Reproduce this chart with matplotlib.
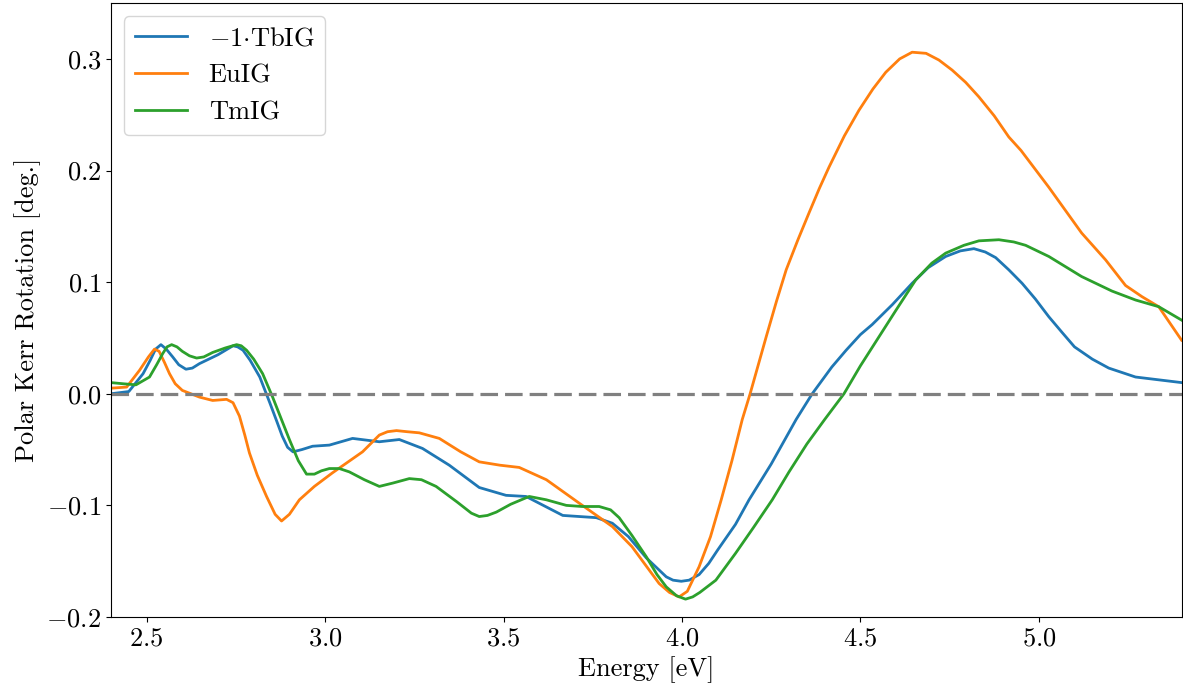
import matplotlib
matplotlib.use("Agg")
import matplotlib.pyplot as plt

plt.rcParams["font.family"] = "serif"
plt.rcParams["font.serif"] = ["cmr10", "DejaVu Serif"]
plt.rcParams["mathtext.fontset"] = "cm"
plt.rcParams["axes.formatter.use_mathtext"] = True
plt.rcParams["font.size"] = 19

# -1 * TbIG (values as plotted)
tbig_e = [2.40, 2.45, 2.49, 2.51, 2.525, 2.54, 2.555, 2.573, 2.59, 2.61, 2.628, 2.648,
          2.70, 2.742, 2.755, 2.77, 2.79, 2.817, 2.845, 2.865, 2.88, 2.895, 2.91, 2.935,
          2.965, 3.012, 3.077, 3.152, 3.208, 3.273, 3.348, 3.432, 3.507, 3.563, 3.666,
          3.76, 3.805, 3.85, 3.90, 3.956, 3.975, 3.998, 4.02, 4.048, 4.075, 4.10, 4.15,
          4.188, 4.25, 4.32, 4.365, 4.42, 4.46, 4.50, 4.533, 4.59, 4.645, 4.69, 4.739,
          4.78, 4.818, 4.85, 4.879, 4.916, 4.953, 4.99, 5.028, 5.065, 5.10, 5.15, 5.196,
          5.271, 5.40]
tbig_k = [0.000, 0.002, 0.018, 0.030, 0.040, 0.044, 0.040, 0.033, 0.026, 0.022, 0.023, 0.027,
          0.035, 0.043, 0.042, 0.039, 0.030, 0.015, -0.008, -0.025, -0.038, -0.048, -0.052, -0.050,
          -0.047, -0.046, -0.040, -0.043, -0.041, -0.049, -0.064, -0.084, -0.091, -0.092, -0.109,
          -0.111, -0.116, -0.128, -0.147, -0.164, -0.167, -0.168, -0.167, -0.162, -0.152, -0.140, -0.117,
          -0.095, -0.063, -0.023, 0.000, 0.024, 0.039, 0.053, 0.062, 0.080, 0.099, 0.113, 0.123,
          0.128, 0.130, 0.127, 0.122, 0.111, 0.099, 0.085, 0.069, 0.055, 0.042, 0.031, 0.023,
          0.015, 0.010]

euig_e = [2.40, 2.444, 2.48, 2.505, 2.522, 2.535, 2.55, 2.564, 2.58, 2.60, 2.648, 2.685,
          2.724, 2.742, 2.76, 2.775, 2.788, 2.81, 2.836, 2.86, 2.878, 2.90, 2.928, 2.97,
          3.02, 3.105, 3.152, 3.175, 3.20, 3.23, 3.264, 3.32, 3.38, 3.432, 3.49, 3.544,
          3.62, 3.712, 3.805, 3.86, 3.936, 3.965, 3.992, 4.015, 4.048, 4.08, 4.11, 4.14,
          4.169, 4.191, 4.236, 4.265, 4.292, 4.325, 4.356, 4.385, 4.412, 4.455, 4.496, 4.535,
          4.571, 4.61, 4.645, 4.684, 4.72, 4.757, 4.795, 4.832, 4.875, 4.916, 4.95, 5.028,
          5.12, 5.187, 5.243, 5.289, 5.336, 5.40]
euig_k = [0.005, 0.006, 0.021, 0.033, 0.040, 0.038, 0.028, 0.018, 0.009, 0.003, -0.003, -0.006,
          -0.005, -0.008, -0.020, -0.037, -0.053, -0.073, -0.092, -0.108, -0.114, -0.108, -0.095, -0.083,
          -0.071, -0.052, -0.037, -0.034, -0.033, -0.034, -0.035, -0.040, -0.052, -0.061, -0.064, -0.066,
          -0.077, -0.098, -0.119, -0.137, -0.170, -0.178, -0.182, -0.177, -0.155, -0.128, -0.095, -0.060,
          -0.023, 0.000, 0.051, 0.083, 0.111, 0.138, 0.162, 0.184, 0.203, 0.231, 0.254, 0.273,
          0.288, 0.300, 0.306, 0.305, 0.299, 0.290, 0.279, 0.266, 0.249, 0.230, 0.218, 0.185,
          0.144, 0.120, 0.097, 0.087, 0.078, 0.048]

tmig_e = [2.40, 2.433, 2.47, 2.508, 2.528, 2.545, 2.557, 2.57, 2.585, 2.60, 2.62, 2.64,
          2.66, 2.685, 2.72, 2.752, 2.765, 2.78, 2.80, 2.825, 2.853, 2.90, 2.925, 2.948,
          2.97, 2.99, 3.012, 3.04, 3.068, 3.11, 3.152, 3.19, 3.236, 3.27, 3.311, 3.37,
          3.41, 3.432, 3.455, 3.48, 3.52, 3.572, 3.62, 3.676, 3.72, 3.768, 3.80, 3.824,
          3.86, 3.90, 3.93, 3.956, 3.985, 4.01, 4.03, 4.05, 4.095, 4.15, 4.20, 4.253,
          4.30, 4.35, 4.40, 4.454, 4.50, 4.552, 4.60, 4.655, 4.70, 4.739, 4.79, 4.832,
          4.888, 4.93, 4.963, 5.028, 5.12, 5.205, 5.271, 5.336, 5.40]
tmig_k = [0.010, 0.009, 0.008, 0.015, 0.026, 0.036, 0.042, 0.044, 0.042, 0.038, 0.034, 0.032,
          0.033, 0.037, 0.041, 0.044, 0.043, 0.039, 0.031, 0.018, -0.003, -0.041, -0.060, -0.072,
          -0.072, -0.069, -0.067, -0.067, -0.070, -0.077, -0.083, -0.080, -0.076, -0.077, -0.083, -0.097,
          -0.107, -0.110, -0.109, -0.106, -0.099, -0.092, -0.095, -0.100, -0.101, -0.101, -0.104, -0.111,
          -0.127, -0.146, -0.162, -0.173, -0.181, -0.184, -0.182, -0.178, -0.167, -0.143, -0.120, -0.095,
          -0.070, -0.045, -0.023, 0.000, 0.025, 0.051, 0.075, 0.102, 0.117, 0.126, 0.133, 0.137,
          0.138, 0.136, 0.133, 0.123, 0.105, 0.092, 0.084, 0.078, 0.066]

fig = plt.figure(figsize=(11.83, 6.89), dpi=100)
ax = fig.add_axes([0.0938, 0.1045, 0.905, 0.891])

ax.plot(tbig_e, tbig_k, color="C0", lw=2, label=r"$-1{\cdot}$TbIG")
ax.plot(euig_e, euig_k, color="C1", lw=2, label="EuIG")
ax.plot(tmig_e, tmig_k, color="C2", lw=2, label="TmIG")
ax.axhline(0, color="gray", lw=2.3, dashes=(5.5, 2.2))

ax.set_xlim(2.4, 5.4)
ax.set_ylim(-0.2, 0.35)
ax.set_xticks([2.5, 3.0, 3.5, 4.0, 4.5, 5.0])
ax.set_yticks([-0.2, -0.1, 0.0, 0.1, 0.2, 0.3])
ax.set_xlabel("Energy [eV]")
ax.set_ylabel("Polar Kerr Rotation [deg.]")
ax.legend(loc="upper left")

fig.savefig("out.png", dpi=100)
